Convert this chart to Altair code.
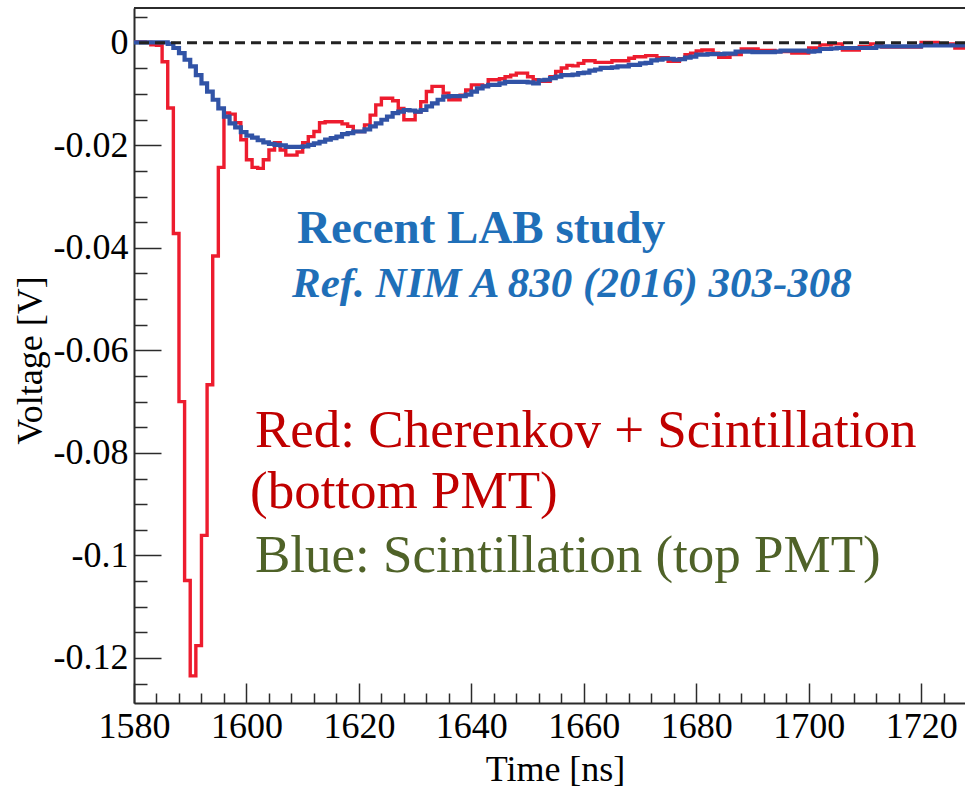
import altair as alt
import pandas as pd

# Digitizer samples, 1 ns bins starting at 1580 ns
time_start = 1580

red_values = [
    0.0002, 0.0002, 0.0001, -0.0004, -0.0005, -0.0037, -0.0127, -0.0372, -0.0700, -0.1049,
    -0.1235, -0.1176, -0.0961, -0.0667, -0.0416, -0.0243, -0.0137, -0.0139, -0.0156, -0.0189,
    -0.0228, -0.0243, -0.0245, -0.0228, -0.0209, -0.0195, -0.0209, -0.0219, -0.0219, -0.0213,
    -0.0195, -0.0183, -0.0173, -0.0156, -0.0154, -0.0154, -0.0154, -0.0158, -0.0163, -0.0173,
    -0.0173, -0.0160, -0.0141, -0.0121, -0.0108, -0.0108, -0.0113, -0.0128, -0.0150, -0.0150,
    -0.0135, -0.0115, -0.0095, -0.0085, -0.0085, -0.0098, -0.0111, -0.0111, -0.0102, -0.0092,
    -0.0082, -0.0082, -0.0084, -0.0072, -0.0072, -0.0070, -0.0066, -0.0063, -0.0059, -0.0059,
    -0.0066, -0.0072, -0.0075, -0.0075, -0.0066, -0.0056, -0.0049, -0.0044, -0.0045, -0.0040,
    -0.0035, -0.0035, -0.0038, -0.0038, -0.0038, -0.0035, -0.0035, -0.0035, -0.0030, -0.0027,
    -0.0027, -0.0025, -0.0025, -0.0029, -0.0029, -0.0036, -0.0036, -0.0031, -0.0023, -0.0020,
    -0.0016, -0.0014, -0.0014, -0.0020, -0.0028, -0.0028, -0.0023, -0.0023, -0.0012, -0.0012,
    -0.0012, -0.0015, -0.0015, -0.0015, -0.0017, -0.0017, -0.0017, -0.0020, -0.0020, -0.0020,
    -0.0010, -0.0010, -0.0004, -0.0004, -0.0002, -0.0002, -0.0014, -0.0014, -0.0014, -0.0007,
    -0.0007, -0.0002, -0.0002, -0.0008, -0.0008, -0.0008, -0.0008, -0.0008, -0.0008, -0.0008,
    0.0001, 0.0001, 0.0001, -0.0002, -0.0002, -0.0002, -0.0010, -0.0010, -0.0010,
]

blue_values = [
    0.0001, 0.0001, 0.0001, 0.0001, 0.0001, 0.0001, -0.0002, -0.0010, -0.0020, -0.0033,
    -0.0046, -0.0063, -0.0079, -0.0095, -0.0111, -0.0128, -0.0144, -0.0157, -0.0165, -0.0174,
    -0.0181, -0.0185, -0.0190, -0.0194, -0.0197, -0.0199, -0.0200, -0.0203, -0.0203, -0.0203,
    -0.0202, -0.0199, -0.0196, -0.0193, -0.0189, -0.0186, -0.0183, -0.0178, -0.0176, -0.0173,
    -0.0173, -0.0169, -0.0163, -0.0157, -0.0150, -0.0144, -0.0137, -0.0134, -0.0131, -0.0132,
    -0.0134, -0.0131, -0.0124, -0.0118, -0.0111, -0.0105, -0.0104, -0.0104, -0.0104, -0.0101,
    -0.0095, -0.0089, -0.0085, -0.0082, -0.0082, -0.0079, -0.0076, -0.0076, -0.0076, -0.0076,
    -0.0077, -0.0079, -0.0073, -0.0072, -0.0069, -0.0066, -0.0063, -0.0063, -0.0062, -0.0059,
    -0.0058, -0.0054, -0.0052, -0.0049, -0.0049, -0.0048, -0.0046, -0.0046, -0.0043, -0.0043,
    -0.0040, -0.0039, -0.0034, -0.0033, -0.0031, -0.0031, -0.0033, -0.0032, -0.0029, -0.0027,
    -0.0023, -0.0023, -0.0022, -0.0022, -0.0022, -0.0021, -0.0021, -0.0017, -0.0017, -0.0017,
    -0.0018, -0.0018, -0.0018, -0.0018, -0.0017, -0.0015, -0.0015, -0.0015, -0.0015, -0.0015,
    -0.0017, -0.0016, -0.0012, -0.0012, -0.0011, -0.0010, -0.0010, -0.0010, -0.0010, -0.0010,
    -0.0010, -0.0010, -0.0007, -0.0007, -0.0007, -0.0007, -0.0007, -0.0007, -0.0007, -0.0007,
    -0.0005, -0.0005, -0.0005, -0.0005, -0.0005, -0.0005, -0.0005, -0.0005, -0.0005,
]

x_major = [1580, 1600, 1620, 1640, 1660, 1680, 1700, 1720]
x_minor = [1584, 1588, 1592, 1596, 1604, 1608, 1612, 1616, 1624, 1628, 1632, 1636,
           1644, 1648, 1652, 1656, 1664, 1668, 1672, 1676, 1684, 1688, 1692, 1696,
           1704, 1708, 1712, 1716, 1724]
y_major = [0, -0.02, -0.04, -0.06, -0.08, -0.1, -0.12]
y_minor = [0.005, -0.005, -0.01, -0.015, -0.025, -0.03, -0.035, -0.045, -0.05, -0.055,
           -0.065, -0.07, -0.075, -0.085, -0.09, -0.095, -0.105, -0.11, -0.115, -0.125]

study_title = "Recent LAB study"
study_ref = "Ref. NIM A 830 (2016) 303-308"
legend_red_1 = "Red: Cherenkov + Scintillation"
legend_red_2 = "(bottom PMT)"
legend_blue = "Blue: Scintillation (top PMT)"

FONT = "Liberation Serif"
W, H = 831, 695
RED = "#ED1C2E"
BLUE = "#3153A6"
FRAME = "#2b2b2b"


def hist_frame(values):
    # step-after needs a closing point at the right edge of the last bin
    times = [time_start + i for i in range(len(values) + 1)]
    return pd.DataFrame({"t": times, "v": list(values) + [values[-1]]})


red_df = hist_frame(red_values)
blue_df = hist_frame(blue_values)

xs = alt.Scale(domain=[1580, 1727.8], nice=False, zero=False)
ys = alt.Scale(domain=[-0.1288, 0.0068], nice=False, zero=False)

# invisible layer carrying the minor tick axes (ticks point into the frame)
minor_ticks = alt.Chart(blue_df).mark_line(opacity=0).encode(
    x=alt.X("t:Q", scale=xs, axis=alt.Axis(
        orient="top", offset=-H, values=x_minor, labels=False, domain=False,
        grid=False, tickSize=10, tickWidth=1.5, tickColor=FRAME, title=None)),
    y=alt.Y("v:Q", scale=ys, axis=alt.Axis(
        orient="right", offset=-W, values=y_minor, labels=False, domain=False,
        grid=False, tickSize=13, tickWidth=1.5, tickColor=FRAME, title=None)),
)

red = alt.Chart(red_df).mark_line(
    interpolate="step-after", color=RED, strokeWidth=3.4, clip=True
).encode(
    x=alt.X("t:Q", scale=xs, axis=alt.Axis(
        orient="bottom", values=x_major, format="d", ticks=False, grid=False,
        domain=True, domainColor=FRAME, domainWidth=2,
        labelFont=FONT, labelFontSize=36, labelColor="black", labelPadding=6,
        labelFlush=False, labelOverlap=False,
        title="Time [ns]", titleFont=FONT, titleFontSize=36, titleFontWeight="normal",
        titleColor="black", titleX=421, titleY=77, titleAlign="center",
        titleBaseline="alphabetic")),
    y=alt.Y("v:Q", scale=ys, axis=alt.Axis(
        orient="left", values=y_major, labelExpr="'' + datum.value", ticks=False,
        grid=False, domain=True, domainColor=FRAME, domainWidth=2,
        labelFont=FONT, labelFontSize=36, labelColor="black", labelPadding=6,
        labelFlush=False, labelOverlap=False,
        title="Voltage [V]", titleFont=FONT, titleFontSize=36, titleFontWeight="normal",
        titleColor="black", titleAngle=270, titleX=-104, titleY=352,
        titleAlign="center", titleBaseline="middle")),
)

blue = alt.Chart(blue_df).mark_line(
    interpolate="step-after", color=BLUE, strokeWidth=4.2, clip=True
).encode(
    x=alt.X("t:Q", scale=xs, axis=alt.Axis(
        orient="top", offset=-H, values=x_major, labels=False, domain=False,
        grid=False, tickSize=20, tickWidth=1.5, tickColor=FRAME, title=None)),
    y=alt.Y("v:Q", scale=ys, axis=alt.Axis(
        orient="right", offset=-W, values=y_major, labels=False, domain=False,
        grid=False, tickSize=27, tickWidth=1.5, tickColor=FRAME, title=None)),
)

baseline = alt.Chart(pd.DataFrame({"z": [0.0]})).mark_rule(
    color="#222222", strokeWidth=3, strokeDash=[10, 6]
).encode(y=alt.Y("z:Q", scale=ys, axis=None))

top_frame = alt.Chart(pd.DataFrame({"z": [0]})).mark_rule(
    color=FRAME, strokeWidth=2
).encode(y=alt.value(0))


def label(text, x, y, size, color, weight="normal", style="normal"):
    return alt.Chart(pd.DataFrame({"z": [0]})).mark_text(
        text=text, align="left", baseline="alphabetic", font=FONT,
        fontSize=size, fontWeight=weight, fontStyle=style, color=color,
    ).encode(x=alt.value(x), y=alt.value(y))


texts = [
    label(study_title, 163, 235, 47, "#1F6FB8", weight="bold"),
    label(study_ref, 158, 289, 43, "#1F6FB8", weight="bold", style="italic"),
    label(legend_red_1, 121, 439, 53, "#C00000"),
    label(legend_red_2, 116, 500, 53, "#C00000"),
    label(legend_blue, 121, 564, 53, "#4F6228"),
]

chart = alt.layer(
    minor_ticks, red, blue, baseline, top_frame, *texts
).resolve_axis(
    x="independent", y="independent"
).properties(
    width=W, height=H,
    autosize=alt.AutoSizeParams(type="none"),
    padding={"left": 134, "top": 8, "right": 0, "bottom": 85},
    background="white",
).configure_view(strokeWidth=0)

chart.save("out.html", embed_options={"renderer": "svg", "actions": False})
